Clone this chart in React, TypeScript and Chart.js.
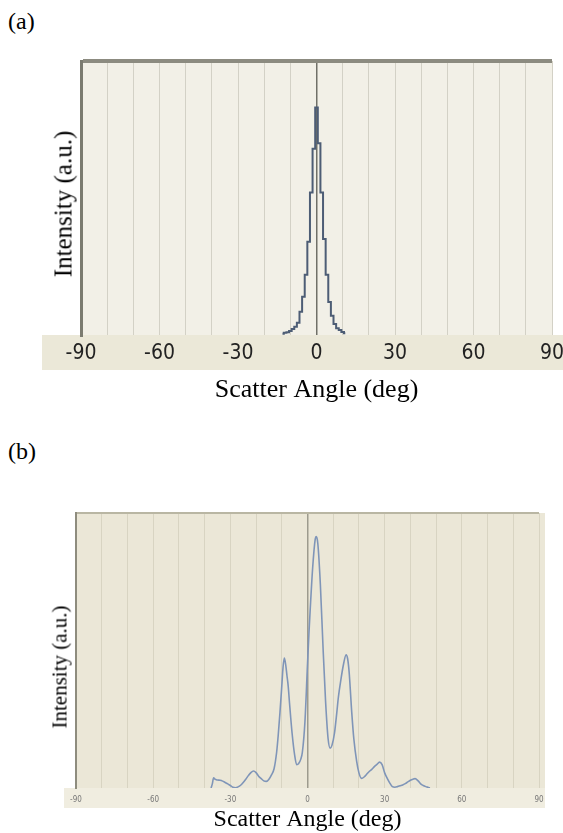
import React, { useEffect, useRef } from "react";
import { Chart, registerables } from "chart.js";

Chart.register(...registerables);

// ---------- data ----------
const panelLabels = ["(a)", "(b)"];
const xAxisTitle = "Scatter Angle (deg)";
const yAxisTitle = "Intensity (a.u.)";
const xTickLabels = [-90, -60, -30, 0, 30, 60, 90];
const gridStepDeg = 10;

// (a) narrow single peak
const anglesA = [-13, -12, -11, -10, -9, -8, -7, -6, -5, -4, -3, -2, -1, 0, 1, 2, 3, 4, 5, 6, 7, 8, 9, 10, 11];
const intensityA = [0.5, 0.8, 1, 1.5, 2.2, 3, 4.5, 8.5, 14, 22, 34, 52, 68, 83, 70, 52, 35, 22, 12, 7, 4, 2.5, 1.8, 1.1, 0.6];

// (b) diffraction-like pattern
const anglesB = [
  -37.5, -37, -36.5, -36, -35, -34, -33, -32, -31, -30, -29, -28, -27, -26, -25, -24, -23, -22, -21, -20,
  -19, -18, -17, -16, -15, -14, -13, -12, -11.4, -10.7, -10, -9.5, -9, -8.5, -8, -7.5, -7, -6, -5, -4.2,
  -3.5, -2.6, -2, -1, 0, 0.6, 1, 2, 3, 3.4, 4, 5, 6, 7, 8, 8.8, 9.5, 10.5, 11.4, 12, 13, 14, 15, 15.6,
  16.2, 17.2, 18, 19.1, 20, 21, 22, 23, 24, 25, 26, 27, 28, 29, 30, 31, 32, 33, 34, 35, 36, 37, 38, 39,
  40, 41, 41.8, 43, 44, 45, 46, 47, 47.6,
];
const intensityB = [
  0, 1.5, 3.7, 3.2, 2.9, 2.8, 2.5, 2.0, 1.5, 0.9, 0.3, 0.1, 0.4, 1.0, 2.0, 3.2, 4.5, 5.6, 6.2, 5.6,
  4.3, 3.4, 2.6, 2.4, 3.2, 4.8, 7, 13, 19, 27.5, 37, 44, 47.3, 45, 41, 37, 31, 20, 12, 8.5,
  8.8, 10.5, 13, 24, 45, 57, 64, 80, 90.5, 91.4, 89, 74, 52, 32, 18, 14.5, 15.5, 20, 27.5, 33, 39.5, 45, 48.4, 47,
  42, 27.5, 18, 9.8, 5.5, 3.5, 4, 5, 6, 6.8, 7.8, 8.6, 9.4, 8.5, 5.5, 3.5, 1.8, 0.5, 0.3, 0.5, 0.8, 1.1, 1.6, 2.2,
  2.8, 3.2, 3.4, 2.6, 1.5, 0.9, 0.5, 0.2, 0,
];

// ---------- helpers ----------
const panelBgPlugin = {
  id: "panelBg",
  beforeDraw(chart: any, _args: any, opts: any) {
    const { ctx, chartArea: a } = chart;
    ctx.save();
    ctx.fillStyle = opts.plotBg;
    ctx.fillRect(a.left, a.top, a.right - a.left + opts.plotExtraRight, a.bottom - a.top);
    ctx.fillStyle = opts.bandBg;
    ctx.fillRect(
      a.left - opts.bandLeft,
      a.bottom,
      a.right - a.left + opts.bandLeft + opts.bandRight,
      opts.bandHeight
    );
    ctx.restore();
  },
};

type PanelSpec = {
  angles: number[];
  values: number[];
  line: any;
  pad: { top: number; right: number; left: number; bottom: number };
  yWidth: number;
  xHeight: number;
  bg: any;
  tickFont: any;
  tickColor: string;
  tickPad: number;
  xTitleFont: any;
  xTitlePad: number;
  gridColor: string;
  zeroColor: string;
  zeroWidth: number;
  axisColor: string;
  axisWidth: number;
  topColor: string;
  topWidth: number;
};

function buildConfig(p: PanelSpec): any {
  return {
    type: "line",
    data: {
      datasets: [
        {
          data: p.angles.map((x, i) => ({ x, y: p.values[i] })),
          pointRadius: 0,
          fill: false,
          ...p.line,
        },
      ],
    },
    plugins: [panelBgPlugin],
    options: {
      animation: false,
      responsive: false,
      maintainAspectRatio: false,
      events: [],
      layout: { padding: p.pad },
      plugins: {
        legend: { display: false },
        tooltip: { enabled: false },
        panelBg: p.bg,
      },
      scales: {
        x: {
          type: "linear",
          min: -90,
          max: 90,
          afterFit: (s: any) => {
            s.height = p.xHeight;
            s.paddingLeft = 0;
            s.paddingRight = 0;
          },
          border: { display: false },
          grid: {
            drawTicks: false,
            color: (c: any) => {
              const v = c.tick && c.tick.value;
              if (v === -90) return "rgba(0,0,0,0)";
              return v === 0 ? p.zeroColor : p.gridColor;
            },
            lineWidth: (c: any) => (c.tick && c.tick.value === 0 ? p.zeroWidth : 1),
          },
          ticks: {
            stepSize: gridStepDeg,
            autoSkip: false,
            maxRotation: 0,
            minRotation: 0,
            padding: p.tickPad,
            color: p.tickColor,
            font: p.tickFont,
            callback: (v: any) => (xTickLabels.includes(Number(v)) ? String(v) : ""),
          },
          title: {
            display: true,
            text: xAxisTitle,
            color: "#000",
            font: p.xTitleFont,
            padding: { top: 0, bottom: p.xTitlePad },
          },
        },
        y: {
          min: 0,
          max: 100,
          afterFit: (s: any) => {
            s.width = p.yWidth;
          },
          border: { display: true, color: p.axisColor, width: p.axisWidth },
          grid: {
            drawTicks: false,
            color: (c: any) => (c.tick && c.tick.value === 100 ? p.topColor : "rgba(0,0,0,0)"),
            lineWidth: p.topWidth,
          },
          ticks: { display: false, stepSize: 100 },
          title: { display: false },
        },
      },
    },
  };
}

const serif = "'Liberation Serif', 'Times New Roman', serif";

const specA: PanelSpec = {
  angles: anglesA,
  values: intensityA,
  line: { borderColor: "#4d5d75", borderWidth: 2, stepped: "middle" },
  pad: { top: 21, right: 11, left: 0, bottom: 0 },
  yWidth: 81,
  xHeight: 75,
  bg: { plotBg: "#f2f0e7", bandBg: "#ebe8d8", plotExtraRight: 0, bandLeft: 39, bandRight: 11, bandHeight: 35 },
  tickFont: { family: "'DejaVu Sans Condensed', 'DejaVu Sans', sans-serif", size: 21, lineHeight: 1 },
  tickColor: "#222",
  tickPad: 8,
  xTitleFont: { family: serif, size: 26, lineHeight: 1 },
  xTitlePad: 7,
  gridColor: "#d3d1c6",
  zeroColor: "#707068",
  zeroWidth: 1.5,
  axisColor: "#7b7b70",
  axisWidth: 3,
  topColor: "#8c8b80",
  topWidth: 4,
};

const specB: PanelSpec = {
  angles: anglesB,
  values: intensityB,
  line: { borderColor: "#7f95b8", borderWidth: 1.6, cubicInterpolationMode: "monotone" },
  pad: { top: 83, right: 24, left: 0, bottom: 0 },
  yWidth: 76,
  xHeight: 45,
  bg: { plotBg: "#ebe7d7", bandBg: "#f0ede0", plotExtraRight: 6, bandLeft: 12, bandRight: 6, bandHeight: 20 },
  tickFont: { family: "'DejaVu Sans Condensed', 'DejaVu Sans', sans-serif", size: 8, lineHeight: 1 },
  tickColor: "#777",
  tickPad: 8,
  xTitleFont: { family: serif, size: 24, lineHeight: 1 },
  xTitlePad: 1,
  gridColor: "#d8d4c2",
  zeroColor: "#9d9b8e",
  zeroWidth: 1.5,
  axisColor: "#8e8c7e",
  axisWidth: 2,
  topColor: "#b9b6a3",
  topWidth: 2,
};

function ChartCanvas({ spec, top, height }: { spec: PanelSpec; top: number; height: number }) {
  const ref = useRef<HTMLCanvasElement | null>(null);
  useEffect(() => {
    if (!ref.current) return;
    const chart = new Chart(ref.current, buildConfig(spec));
    return () => chart.destroy();
  }, [spec]);
  return (
    <canvas
      ref={ref}
      width={563}
      height={height}
      style={{ position: "absolute", left: 0, top, width: 563, height }}
    />
  );
}

const labelStyle: React.CSSProperties = {
  position: "absolute",
  left: 8,
  fontFamily: serif,
  fontSize: 24,
  lineHeight: "24px",
  color: "#000",
};

function YLabel({ cx, cy, size }: { cx: number; cy: number; size: number }) {
  return (
    <div
      style={{
        position: "absolute",
        left: cx,
        top: cy,
        transform: "translate(-50%, -50%) rotate(-90deg)",
        whiteSpace: "nowrap",
        fontFamily: serif,
        fontSize: size,
        lineHeight: 1,
        color: "#000",
      }}
    >
      {yAxisTitle}
    </div>
  );
}

export default function App() {
  return (
    <div style={{ position: "absolute", left: 0, top: 0, width: 563, height: 833, background: "#fff", overflow: "hidden" }}>
      <div style={{ ...labelStyle, top: 9 }}>{panelLabels[0]}</div>
      <ChartCanvas spec={specA} top={40} height={370} />
      <YLabel cx={63} cy={204} size={25} />
      <div style={{ ...labelStyle, top: 439 }}>{panelLabels[1]}</div>
      <ChartCanvas spec={specB} top={430} height={403} />
      <YLabel cx={60} cy={667} size={21} />
    </div>
  );
}
